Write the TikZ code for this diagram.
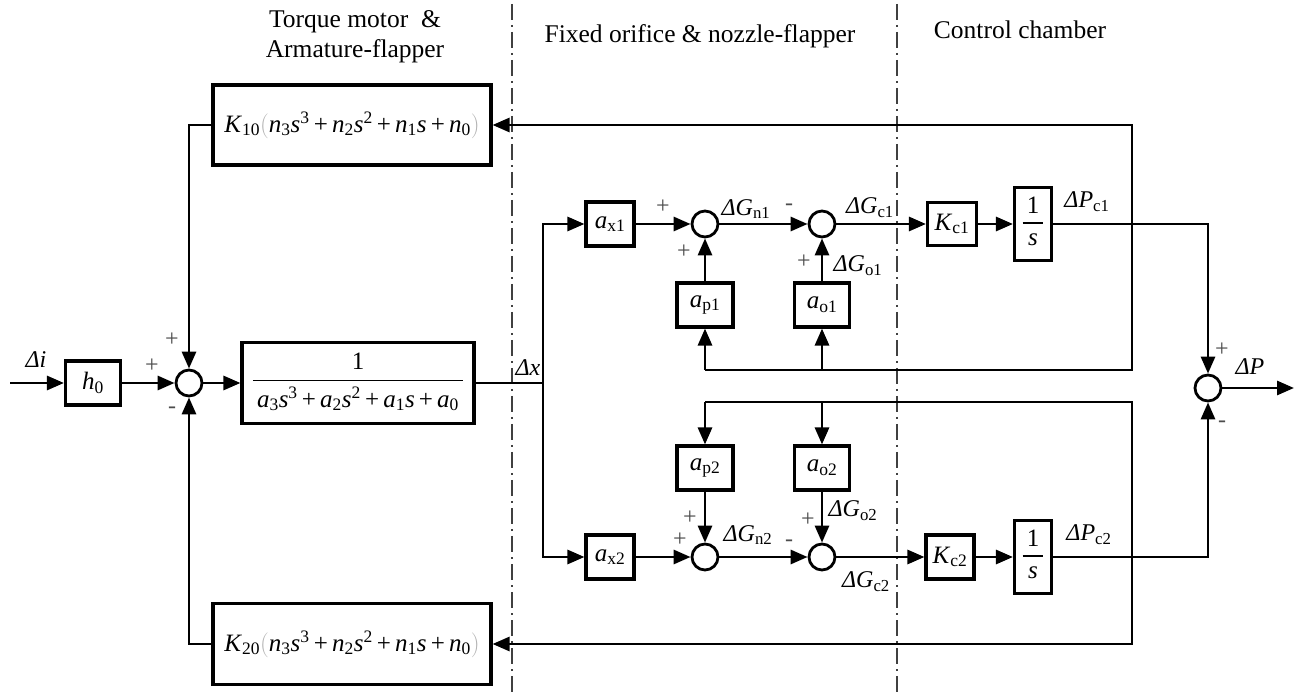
\documentclass[tikz,border=0pt]{standalone}
\usepackage{fontspec}
\setmainfont{Liberation Serif}
\usetikzlibrary{arrows.meta}
\newcommand\tsub[1]{\textsubscript{\upshape #1}}
\newcommand\tsup[1]{\textsuperscript{\upshape #1}}
\newcommand\V[1]{\textit{#1}}
\newcommand\lpar{{\color{gray!60}$\biggl($}}
\newcommand\rpar{{\color{gray!60}$\biggr)$}}
\begin{document}
\begin{tikzpicture}[x=1pt,y=-1pt,
  line width=2.9pt,
  >={Triangle[length=17pt,width=14pt]},
  blk/.style={draw, line width=3.1pt, inner sep=0pt, font=\fontsize{25}{27}\selectfont},
  sumj/.style={draw, circle, line width=2.8pt, minimum size=26pt, inner sep=0pt},
  lbl/.style={font=\fontsize{24}{25}\selectfont, inner sep=0pt},
  sgn/.style={font=\fontsize{24}{24}\selectfont, text=black!70, inner sep=0pt},
  ttl/.style={font=\fontsize{25.5}{28}\selectfont, inner sep=0pt},
  sep/.style={line width=1.5pt, black!75, dash pattern=on 16pt off 5pt on 2pt off 5pt},
  thin/.style={line width=2pt}]
\useasboundingbox (0,0) rectangle (1302,692);

% titles
\node[ttl] (t1) at (355,22) {Torque motor \ \&};
\node[ttl] (t2) at (355,51) {Armature-flapper};
\node[ttl] (t3) at (700,36) {Fixed orifice \& nozzle-flapper};
\node[ttl] (t4) at (1020,30) {Control chamber};

% separators
\coordinate (sa1) at (512,4); \coordinate (sa2) at (512,692);
\coordinate (sb1) at (897,4); \coordinate (sb2) at (897,692);
\draw[sep] (sa1) -- (sa2);
\draw[sep] (sb1) -- (sb2);

% blocks
\node[blk, minimum width=55pt, minimum height=44pt] (h0) at (93,383) {\V{h}\tsub{0}};
\node[sumj] (s0) at (189,383) {};
\node[blk, minimum width=232pt, minimum height=81pt] (main) at (358,383)
  {\setlength{\arrayrulewidth}{1.6pt}\begin{tabular}{@{\,}c@{\,}}1\\[2pt]\hline\rule{0pt}{26pt}\V{a}\tsub{3}\V{s}\tsup{3}\,+\,\V{a}\tsub{2}\V{s}\tsup{2}\,+\,\V{a}\tsub{1}\V{s}\,+\,\V{a}\tsub{0}\end{tabular}};
\node[blk, minimum width=278pt, minimum height=80pt] (K10) at (352,125)
  {\V{K}\tsub{10}\lpar\V{n}\tsub{3}\V{s}\tsup{3}\,+\,\V{n}\tsub{2}\V{s}\tsup{2}\,+\,\V{n}\tsub{1}\V{s}\,+\,\V{n}\tsub{0}\rpar};
\node[blk, minimum width=278pt, minimum height=81pt] (K20) at (352,644)
  {\V{K}\tsub{20}\lpar\V{n}\tsub{3}\V{s}\tsup{3}\,+\,\V{n}\tsub{2}\V{s}\tsup{2}\,+\,\V{n}\tsub{1}\V{s}\,+\,\V{n}\tsub{0}\rpar};

\node[blk, minimum width=48pt, minimum height=44pt] (ax1) at (610,224) {\V{a}\tsub{x1}};
\node[sumj] (n1) at (705,224) {};
\node[sumj] (c1) at (822,224) {};
\node[blk, minimum width=56pt, minimum height=44pt] (ap1) at (705,305) {\V{a}\tsub{p1}};
\node[blk, minimum width=55pt, minimum height=44pt] (ao1) at (822,305) {\V{a}\tsub{o1}};
\node[blk, minimum width=49pt, minimum height=43pt] (kc1) at (952,224) {\V{K}\tsub{c1}};
\node[blk, minimum width=37pt, minimum height=73pt] (is1) at (1033,224)
  {\setlength{\arrayrulewidth}{1.4pt}\begin{tabular}{@{\,}c@{\,}}1\\[1pt]\hline\rule{0pt}{22pt}\V{s}\end{tabular}};

\node[blk, minimum width=48pt, minimum height=44pt] (ax2) at (610,557) {\V{a}\tsub{x2}};
\node[sumj] (n2) at (705,557) {};
\node[sumj] (c2) at (822,557) {};
\node[blk, minimum width=56pt, minimum height=44pt] (ap2) at (705,468) {\V{a}\tsub{p2}};
\node[blk, minimum width=55pt, minimum height=44pt] (ao2) at (822,468) {\V{a}\tsub{o2}};
\node[blk, minimum width=48pt, minimum height=44pt] (kc2) at (950,557) {\V{K}\tsub{c2}};
\node[blk, minimum width=37pt, minimum height=73pt] (is2) at (1033,557)
  {\setlength{\arrayrulewidth}{1.4pt}\begin{tabular}{@{\,}c@{\,}}1\\[1pt]\hline\rule{0pt}{22pt}\V{s}\end{tabular}};

\node[sumj] (out) at (1208,388) {};

% coordinates
\coordinate (in) at (10,383);
\coordinate (dx) at (543,383);
\coordinate (p1) at (1132,224);
\coordinate (lb1) at (1132,370);
\coordinate (q1) at (705,370);
\coordinate (r1) at (822,370);
\coordinate (p2) at (1132,557);
\coordinate (lt2) at (1132,402);
\coordinate (q2) at (705,402);
\coordinate (r2) at (822,402);
\coordinate (oend) at (1294,388);

% connectors
\draw[->] (in) -- (h0);
\draw[->] (h0) -- (s0);
\draw[->] (s0) -- (main);
\draw[thin] (main.east) -- (dx);
\draw[->] (dx) |- (ax1);
\draw[->] (dx) |- (ax2);
\draw[->] (K10) -| (s0);
\draw[->] (K20) -| (s0);

\draw[->] (ax1) -- (n1);
\draw[->] (n1) -- (c1);
\draw[->] (c1) -- (kc1);
\draw[->] (kc1) -- (is1);
\draw[thin] (is1) -- (p1);
\draw[->] (p1) -| (out);
\draw[->] (p1) |- (K10);
\draw (p1) -- (lb1) -- (q1);
\draw[->] (q1) -- (ap1);
\draw[->] (r1) -- (ao1);
\draw[->] (ap1) -- (n1);
\draw[->] (ao1) -- (c1);

\draw[->] (ax2) -- (n2);
\draw[->] (n2) -- (c2);
\draw[->] (c2) -- (kc2);
\draw[->] (kc2) -- (is2);
\draw[thin] (is2) -- (p2);
\draw[->] (p2) -| (out);
\draw[->] (p2) |- (K20);
\draw (p2) -- (lt2) -- (q2);
\draw[->] (q2) -- (ap2);
\draw[->] (r2) -- (ao2);
\draw[->] (ap2) -- (n2);
\draw[->] (ao2) -- (c2);

\draw[->] (out) -- (oend);

% labels
\node[lbl] (li) at (36,360) {\V{Δi}};
\node[lbl] (lx) at (528,368) {\V{Δx}};
\node[sgn] (g1) at (152,366) {+};
\node[sgn] (g2) at (172,340) {+};
\node[sgn] (g3) at (172,410) {-};

\node[sgn] (g4) at (663,207) {+};
\node[lbl] (lgn1) at (746,209) {\V{ΔG}\tsub{n1}};
\node[sgn] (g5) at (789,207) {-};
\node[lbl] (lgc1) at (870,208) {\V{ΔG}\tsub{c1}};
\node[sgn] (g6) at (684,252) {+};
\node[sgn] (g7) at (804,262) {+};
\node[lbl] (lgo1) at (858,266) {\V{ΔG}\tsub{o1}};

\node[sgn] (g8) at (690,518) {+};
\node[sgn] (g9) at (680,540) {+};
\node[lbl] (lgn2) at (748,535) {\V{ΔG}\tsub{n2}};
\node[sgn] (g10) at (789,543) {-};
\node[sgn] (g11) at (808,520) {+};
\node[lbl] (lgo2) at (853,511) {\V{ΔG}\tsub{o2}};
\node[lbl] (lgc2) at (866,582) {\V{ΔG}\tsub{c2}};

\node[lbl] (lpc1) at (1087,202) {\V{ΔP}\tsub{c1}};
\node[lbl] (lpc2) at (1089,535) {\V{ΔP}\tsub{c2}};
\node[sgn] (g12) at (1222,350) {+};
\node[sgn] (g13) at (1222,424) {-};
\node[lbl] (lp) at (1250,367) {\V{ΔP}};
\end{tikzpicture}
\end{document}
